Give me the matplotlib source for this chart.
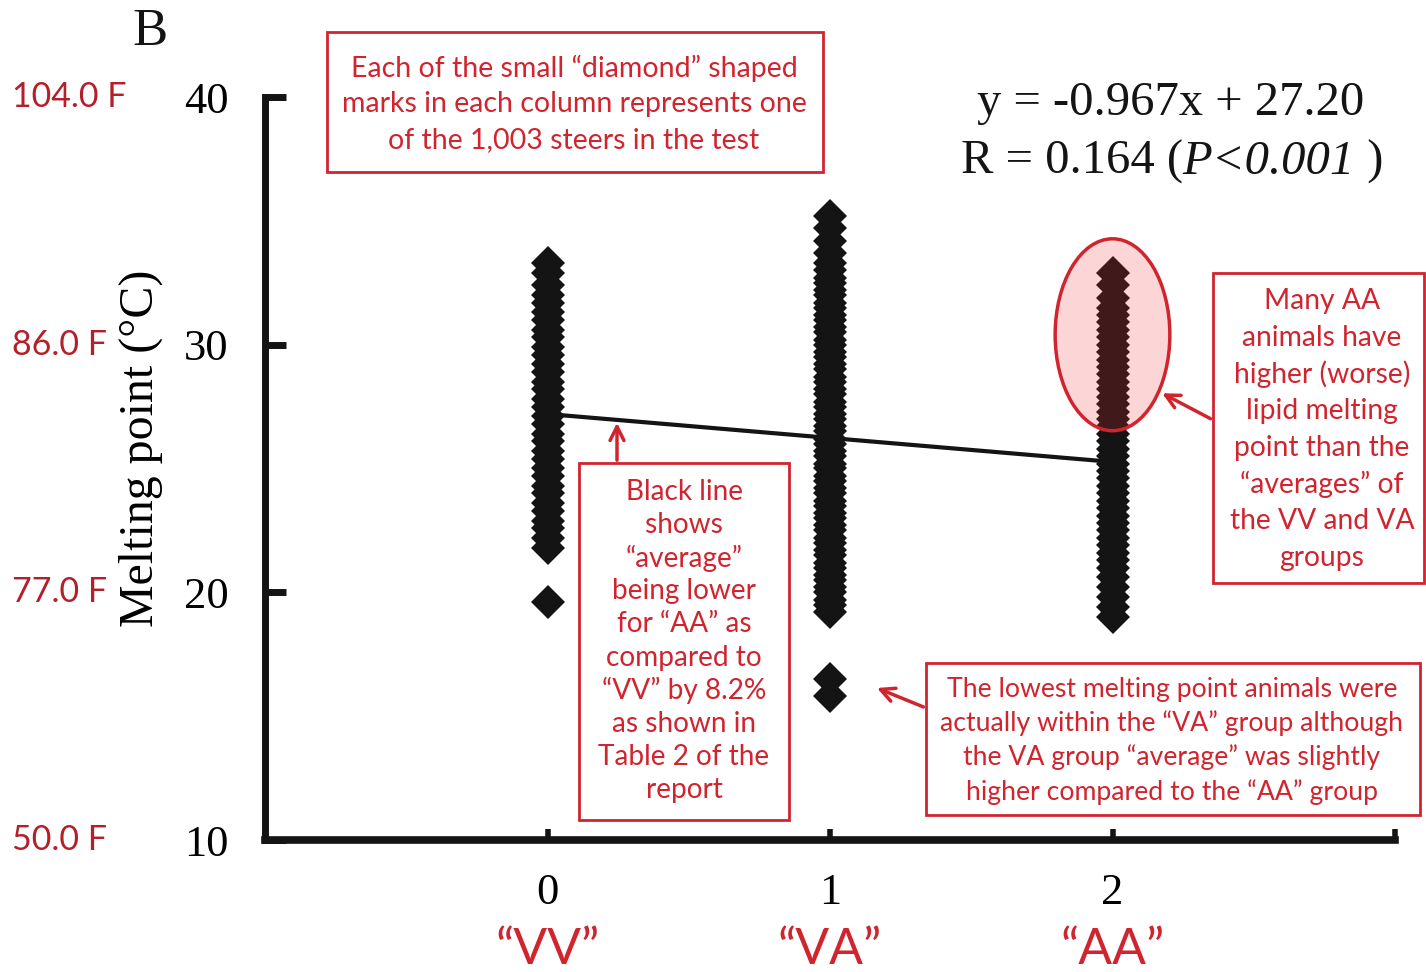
import matplotlib
matplotlib.use('Agg')
import matplotlib.pyplot as plt
from matplotlib.patches import Ellipse, Rectangle
from matplotlib.transforms import blended_transform_factory
from matplotlib.offsetbox import TextArea, HPacker, AnnotationBbox

# melting point (degC) of the visible marks in each genotype column
vv_vals = [19.6, 21.8, 22.2, 22.6, 22.9, 23.3, 23.6, 24.0, 24.3, 24.7, 25.0, 25.4, 25.7,
           26.1, 26.4, 26.8, 27.1, 27.5, 27.8, 28.2, 28.5, 28.9, 29.2, 29.6, 29.9, 30.3,
           30.6, 31.0, 31.3, 31.7, 32.0, 32.4, 32.9, 33.3]
va_vals = [15.8, 16.5, 19.2, 19.5, 19.7, 20.0, 20.2, 20.5, 20.7, 21.0, 21.2, 21.5, 21.7,
           22.0, 22.2, 22.5, 22.7, 23.0, 23.2, 23.5, 23.7, 24.0, 24.2, 24.5, 24.7, 25.0,
           25.2, 25.5, 25.7, 26.0, 26.2, 26.5, 26.7, 27.0, 27.2, 27.5, 27.7, 28.0, 28.2,
           28.5, 28.7, 29.0, 29.2, 29.5, 29.7, 30.0, 30.2, 30.5, 30.7, 31.0, 31.2, 31.5,
           31.7, 32.0, 32.2, 32.5, 32.7, 33.0, 33.3, 33.7, 34.2, 34.7, 35.2]
aa_vals = [19.0, 19.4, 19.8, 20.2, 20.6, 21.0, 21.3, 21.6, 21.9, 22.2, 22.5, 22.8, 23.1,
           23.4, 23.7, 24.0, 24.3, 24.6, 24.9, 25.2, 25.5, 25.8, 26.1, 26.4, 26.7, 27.0,
           27.3, 27.6, 27.9, 28.2, 28.5, 28.8, 29.1, 29.4, 29.7, 30.0, 30.3, 30.6, 30.9,
           31.2, 31.5, 31.9, 32.4, 32.9]

genotypes = [0, 1, 2]
genotype_names = ['\u201cVV\u201d', '\u201cVA\u201d', '\u201cAA\u201d']
slope = -0.967
intercept = 27.20

y_ticks = [10, 20, 30, 40]
f_labels = ['50.0 F', '77.0 F', '86.0 F', '104.0 F']

red = '#d0242e'
dark_red = '#b3202a'
ink = '#141414'
serif = 'Liberation Serif'
sans = 'Lato'

W, H = 1426, 972
fig = plt.figure(figsize=(W / 100, H / 100), dpi=100)
fig.patch.set_facecolor('white')


def fx(px):
    return px / W


def fy(py):
    return 1 - py / H


ax = fig.add_axes([fx(265), fy(840), fx(1395) - fx(265), fy(97) - fy(840)])
ax.set_xlim(-1, 3)
ax.set_ylim(10, 40)

for g, vals in zip(genotypes, [vv_vals, va_vals, aa_vals]):
    ax.plot([g] * len(vals), vals, linestyle='none', marker='D', markersize=17,
            color=ink, markeredgewidth=0, zorder=3)

xs = [genotypes[0], genotypes[-1]]
ax.plot(xs, [slope * x + intercept for x in xs], color=ink, lw=3, zorder=2)

ell = Ellipse((2.0, 30.4), 0.406, 7.75, facecolor=(0.95, 0.2, 0.2, 0.2),
              edgecolor=red, lw=2.5, zorder=4)
ax.add_patch(ell)

for s in ['top', 'right']:
    ax.spines[s].set_visible(False)
ax.spines['left'].set_linewidth(5)
ax.spines['bottom'].set_linewidth(5.5)
ax.spines['left'].set_color(ink)
ax.spines['bottom'].set_color(ink)

ax.set_yticks(y_ticks)
ax.set_yticklabels([str(t) for t in y_ticks], fontfamily=serif, fontsize=32)
ax.set_xticks([0, 1, 2, 3])
ax.set_xticklabels(['0', '1', '2', ''], fontfamily=serif, fontsize=32)
ax.tick_params(axis='y', direction='in', length=15, width=5, pad=26, color=ink)
ax.tick_params(axis='x', direction='in', length=8, width=4, pad=24, color=ink)

ax.set_ylabel('Melting point (\u00b0C)', fontfamily=serif, fontsize=34.5)
ax.yaxis.set_label_coords(-0.0903, 0.5276)

for g, name in zip(genotypes, genotype_names):
    ax.annotate(name, xy=(g, 0), xycoords=('data', 'axes fraction'),
                xytext=(0, -124), textcoords='offset pixels',
                ha='center', va='baseline', fontfamily=sans, fontsize=36, color=red)

trans_f = blended_transform_factory(fig.transFigure, ax.transData)
for t, lab in zip(y_ticks, f_labels):
    ax.text(fx(12), t, lab, transform=trans_f, ha='left', va='center',
            fontfamily=sans, fontsize=24.5, color=dark_red)

fig.text(fx(150), fy(32), 'B', fontfamily=serif, fontsize=38, ha='center', va='center',
         color=ink)

fig.text(fx(1171), fy(103), 'y = -0.967x + 27.20', fontfamily=serif, fontsize=35,
         ha='center', va='center', color=ink)

reg_font = dict(fontfamily=serif, fontsize=35, color=ink)
parts = [TextArea('R = 0.164 (', textprops=reg_font),
         TextArea('P<0.001', textprops=dict(reg_font, fontstyle='italic')),
         TextArea(' )', textprops=reg_font)]
row = HPacker(children=parts, align='baseline', pad=0, sep=0)
fig.add_artist(AnnotationBbox(row, (fx(1172), fy(162)), xycoords='figure fraction',
                              box_alignment=(0.5, 0.5), frameon=False, pad=0))


def note_box(x0, y0, x1, y1, lines, cx, first_y, step, size):
    fig.patches.append(Rectangle((fx(x0), fy(y1)), fx(x1) - fx(x0), fy(y0) - fy(y1),
                                 transform=fig.transFigure, facecolor='white',
                                 edgecolor=red, lw=2, zorder=5))
    for i, line in enumerate(lines):
        fig.text(fx(cx), fy(first_y + i * step), line, fontfamily=sans, fontsize=size,
                 ha='center', va='center', color=red, zorder=6)


note_box(327, 32, 823, 172,
         ['Each of the small \u201cdiamond\u201d shaped',
          'marks in each column represents one',
          'of the 1,003 steers in the test'], 574, 68, 36, 20.5)
note_box(579, 463, 789, 820,
         ['Black line', 'shows', '\u201caverage\u201d', 'being lower',
          'for \u201cAA\u201d as', 'compared to', '\u201cVV\u201d by 8.2%',
          'as shown in', 'Table 2 of the', 'report'], 684, 492, 33.1, 20.2)
note_box(1213, 273, 1424, 583,
         ['Many AA', 'animals have', 'higher (worse)', 'lipid melting',
          'point than the', '\u201caverages\u201d of', 'the VV and VA', 'groups'],
         1322, 301, 36.7, 20.3)
note_box(926, 663, 1420, 815,
         ['The lowest melting point animals were',
          'actually within the \u201cVA\u201d group although',
          'the VA group \u201caverage\u201d was slightly',
          'higher compared to the \u201cAA\u201d group'], 1172, 689, 34.3, 19.2)

arrow = dict(arrowstyle='->', color=red, lw=2.5, mutation_scale=25)
ax.annotate('', xy=(0.246, 26.96), xytext=(fx(617), fy(463)),
            textcoords='figure fraction', arrowprops=arrow, zorder=6)
ax.annotate('', xy=(2.167, 28.09), xytext=(fx(1213), fy(420)),
            textcoords='figure fraction', arrowprops=arrow, zorder=6)
ax.annotate('', xy=(1.157, 16.18), xytext=(fx(926), fy(708)),
            textcoords='figure fraction', arrowprops=arrow, zorder=6)

fig.savefig('out.png', dpi=100)
